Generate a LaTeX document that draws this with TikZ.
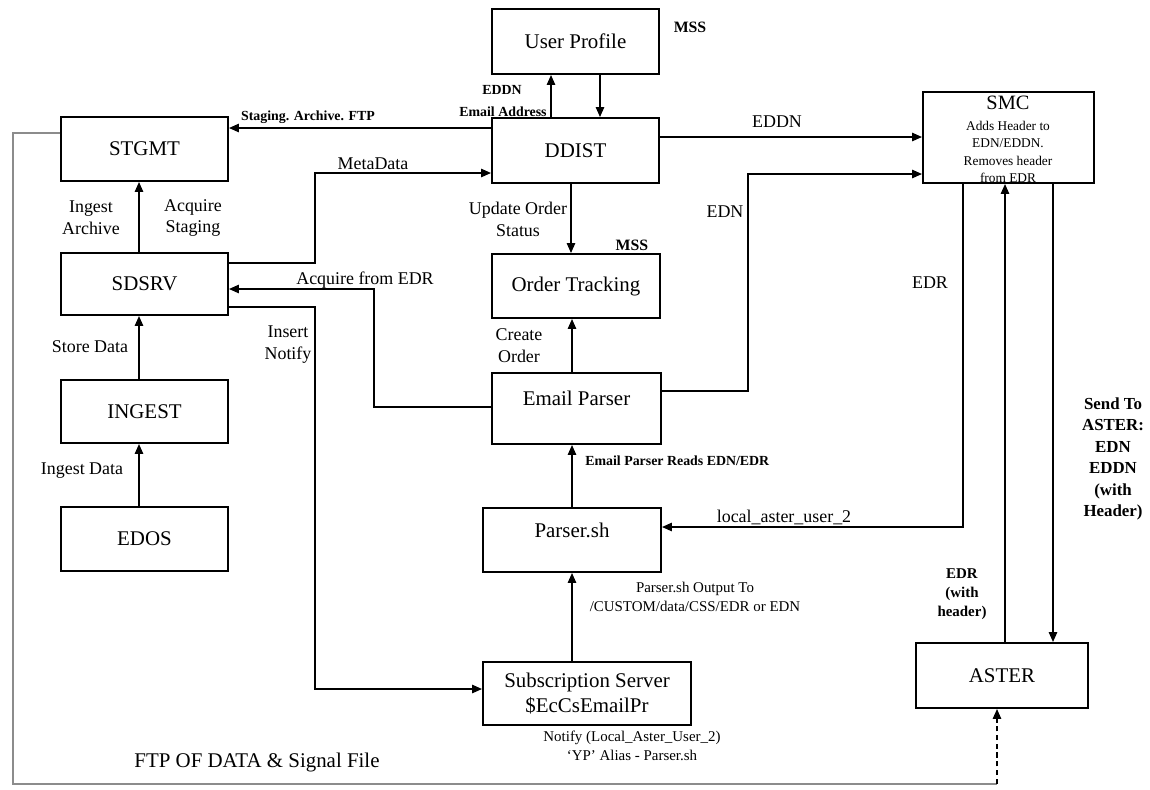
\documentclass[tikz,border=0pt]{standalone}
\usepackage{fontspec}
\setmainfont{Liberation Serif}
\usetikzlibrary{arrows.meta,fit}
\begin{document}
\begin{tikzpicture}[x=0.02cm,y=-0.02cm,
  box/.style={draw, line width=1.1pt, inner sep=0pt},
  bt/.style={font=\fontsize{11.9}{14}\selectfont, inner sep=0pt, align=center},
  lab/.style={font=\fontsize{10.2}{12.5}\selectfont, align=center, inner sep=0pt},
  sm/.style={font=\fontsize{8.5}{10.6}\selectfont, align=center, inner sep=0pt},
  smb/.style={font=\bfseries\fontsize{7.9}{10.2}\selectfont, align=center, inner sep=0pt},
  conn/.style={line width=0.9pt, -{Triangle[length=5.7pt,width=4.8pt]}},
  ftp/.style={line width=0.9pt, draw=black!45},
  ftpend/.style={line width=0.9pt, dash pattern=on 3pt off 2pt, -{Triangle[length=5.7pt,width=4.8pt]}},
]
\useasboundingbox (0,0) rectangle (1150,789);

% ---------- boxes ----------
\node[box, fit={(492,9)(659,74)},    label={[bt]center:User Profile}] (up) {};
\node[box, fit={(492,118)(659,183)}, label={[bt]center:DDIST}] (ddist) {};
\node[box, fit={(492,254)(660,318)}, label={[bt]center:Order Tracking}] (ot) {};
\node[box, fit={(492,373)(661,444)}, label={[bt,yshift=0.2cm]center:Email Parser}] (ep) {};
\node[box, fit={(483,508)(661,572)}, label={[bt,yshift=0.2cm]center:Parser.sh}] (ps) {};
\node[box, fit={(483,662)(691,725)}, label={[bt]center:Subscription Server\\\$EcCsEmailPr}] (ss) {};
\node[box, fit={(61,117)(228,181)},  label={[bt]center:STGMT}] (stgmt) {};
\node[box, fit={(61,253)(228,315)},  label={[bt]center:SDSRV}] (sdsrv) {};
\node[box, fit={(61,380)(228,443)},  label={[bt]center:INGEST}] (ingest) {};
\node[box, fit={(61,507)(228,571)},  label={[bt]center:EDOS}] (edos) {};
\node[box, fit={(923,92)(1094,183)}] (smc) {};
\node[box, fit={(916,643)(1088,708)}, label={[bt]center:ASTER}] (aster) {};

\node[font=\fontsize{11.6}{13}\selectfont, inner sep=0pt] (smct) at (1008,103) {SMC};
\node[font=\fontsize{7.6}{9.9}\selectfont, align=center, inner sep=0pt] (smcd) at (1008,152)
  {Adds Header to\\EDN/EDDN.\\Removes header\\from EDR};

% ---------- connectors ----------
\draw[conn] (ddist.west |- 0,128) -- (stgmt.east |- 0,128);
\draw[conn] (ddist.north -| 551,0) -- (up.south -| 551,0);
\draw[conn] (up.south -| 600,0) -- (ddist.north -| 600,0);
\draw[conn] (ddist.east |- 0,137) -- (smc.west |- 0,137);
\draw[conn] (sdsrv.east |- 0,263) -- (315,263) -- (315,173) -- (ddist.west |- 0,173);
\draw[conn] (sdsrv.north -| 139,0) -- (stgmt.south -| 139,0);
\draw[conn] (ingest.north -| 139,0) -- (sdsrv.south -| 139,0);
\draw[conn] (edos.north -| 139,0) -- (ingest.south -| 139,0);
\draw[conn] (ddist.south -| 571,0) -- (ot.north -| 571,0);
\draw[conn] (ep.north -| 572,0) -- (ot.south -| 572,0);
\draw[conn] (ps.north -| 572,0) -- (ep.south -| 572,0);
\draw[conn] (ss.north -| 572,0) -- (ps.south -| 572,0);
\draw[conn] (ep.west |- 0,407) -- (374,407) -- (374,289) -- (sdsrv.east |- 0,289);
\draw[conn] (sdsrv.east |- 0,307) -- (315,307) -- (315,689) -- (ss.west |- 0,689);
\draw[conn] (ep.east |- 0,391) -- (748,391) -- (748,174) -- (smc.west |- 0,174);
\draw[conn] (smc.south -| 963,0) -- (963,527) -- (ps.east |- 0,527);
\draw[conn] (aster.north -| 1005,0) -- (smc.south -| 1005,0);
\draw[conn] (smc.south -| 1053,0) -- (aster.north -| 1053,0);
\coordinate (ftpc) at (997,784);
\draw[ftp] (stgmt.west |- 0,133) -- (13,133) -- (13,784) -- (ftpc);
\draw[ftpend] (ftpc) -- (aster.south -| ftpc);

% ---------- labels ----------
\node[font=\bfseries\fontsize{9}{11}\selectfont, inner sep=0pt] (mss1) at (690,27) {MSS};
\node[font=\bfseries\fontsize{9}{11}\selectfont, inner sep=0pt] (mss2) at (632,245) {MSS};
\node[smb] (eddn1) at (502,90) {EDDN};
\node[smb] (email) at (503,112) {Email Address};
\node[smb] (stag) at (308,117) {Staging. Archive. FTP};
\node[lab] (meta) at (373,164) {MetaData};
\node[lab] (eddn2) at (777,122) {EDDN};
\node[lab] (edn) at (725,212) {EDN};
\node[lab] (edr) at (930,283) {EDR};
\node[lab] (ingarc) at (91,218) {Ingest\\Archive};
\node[lab] (acqst) at (193,218) {Acquire\\Staging};
\node[lab] (upd) at (518,219) {Update Order\\Status};
\node[lab] (acqedr) at (365,280) {Acquire from EDR};
\node[lab] (insn) at (288,345) {Insert\\Notify};
\node[lab] (store) at (90,347) {Store Data};
\node[lab] (create) at (519,346) {Create\\Order};
\node[lab] (ingd) at (82,471) {Ingest Data};
\node[smb, anchor=west] (epr) at (585,461) {Email Parser Reads EDN/EDR};
\node[lab] (lau) at (784,517) {local\_aster\_user\_2};
\node[sm] (pso) at (695,597) {Parser.sh Output To\\/CUSTOM/data/CSS/EDR or EDN};
\node[font=\bfseries\fontsize{9.6}{12.2}\selectfont, align=center, inner sep=0pt] (send) at (1113,459)
  {Send To\\ASTER:\\EDN\\EDDN\\(with\\Header)};
\node[font=\bfseries\fontsize{8.5}{10.8}\selectfont, align=center, inner sep=0pt] (edrh) at (962,594)
  {EDR\\(with\\header)};
\node[sm] (notify) at (632,746) {Notify (Local\_Aster\_User\_2)\\`YP' Alias - Parser.sh};
\node[font=\fontsize{11.9}{14}\selectfont, inner sep=0pt] (ftpl) at (257,762) {FTP OF DATA \& Signal File};
\end{tikzpicture}
\end{document}
